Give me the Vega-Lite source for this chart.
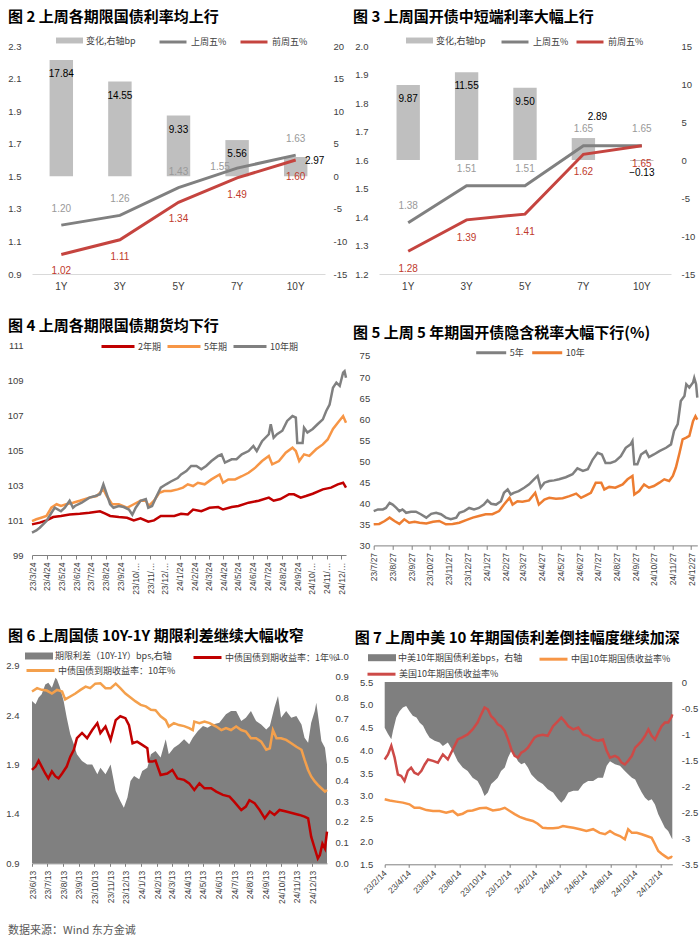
{
"$schema":"https://vega.github.io/schema/vega-lite/v6.json",
"background":"white",
"padding":{"left":5,"top":10,"right":0,"bottom":5},
"config":{"view":{"stroke":null},"font":"Noto Sans CJK SC",
"axis":{"labelFont":"Liberation Sans","labelFontSize":9.5,"labelColor":"#404040","grid":false,"ticks":false,"domain":false,"labelOverlap":false,"labelFlush":false},
"legend":{"labelFont":"Noto Sans CJK SC","labelFontSize":9,"labelColor":"#404040","padding":0},
"title":{"font":"Noto Sans CJK SC","fontSize":15,"fontWeight":"bold","anchor":"start","frame":"group","color":"#000000"}},
"title":{"text":"数据来源：Wind 东方金诚","orient":"bottom","anchor":"start","frame":"group","dx":-24,"fontSize":11,"fontWeight":"normal","color":"#595959","offset":22},
"datasets":{
"p2":[{"c":"1Y","chg":17.84,"last":1.20,"prev":1.02},{"c":"3Y","chg":14.55,"last":1.26,"prev":1.11},{"c":"5Y","chg":9.33,"last":1.43,"prev":1.34},{"c":"7Y","chg":5.56,"last":1.55,"prev":1.49},{"c":"10Y","chg":2.97,"last":1.63,"prev":1.60}],
"p3":[{"c":"1Y","chg":9.87,"last":1.38,"prev":1.28},{"c":"3Y","chg":11.55,"last":1.51,"prev":1.39},{"c":"5Y","chg":9.50,"last":1.51,"prev":1.41},{"c":"7Y","chg":2.89,"last":1.65,"prev":1.62},{"c":"10Y","chg":-0.13,"last":1.65,"prev":1.65}],
"p4a":[{"d":"2023-03-24","v":100.75},{"d":"2023-04-09","v":100.85},{"d":"2023-04-23","v":100.98},{"d":"2023-05-07","v":101.17},{"d":"2023-05-23","v":101.23},{"d":"2023-06-10","v":101.32},{"d":"2023-07-01","v":101.36},{"d":"2023-07-21","v":101.42},{"d":"2023-08-12","v":101.5},{"d":"2023-08-23","v":101.36},{"d":"2023-09-02","v":101.23},{"d":"2023-09-20","v":101.17},{"d":"2023-10-07","v":101.13},{"d":"2023-10-21","v":100.98},{"d":"2023-11-04","v":101.1},{"d":"2023-11-20","v":100.9},{"d":"2023-12-02","v":100.98},{"d":"2023-12-16","v":101.23},{"d":"2023-12-30","v":101.23},{"d":"2024-01-13","v":101.23},{"d":"2024-01-27","v":101.36},{"d":"2024-02-10","v":101.32},{"d":"2024-02-21","v":101.6},{"d":"2024-03-09","v":101.5},{"d":"2024-03-26","v":101.7},{"d":"2024-04-13","v":101.74},{"d":"2024-04-23","v":101.6},{"d":"2024-05-11","v":101.74},{"d":"2024-05-25","v":101.8},{"d":"2024-06-15","v":101.99},{"d":"2024-07-06","v":102.1},{"d":"2024-07-27","v":102.28},{"d":"2024-08-06","v":102.1},{"d":"2024-08-20","v":102.2},{"d":"2024-09-07","v":102.47},{"d":"2024-09-17","v":102.47},{"d":"2024-10-01","v":102.28},{"d":"2024-10-12","v":102.37},{"d":"2024-10-26","v":102.5},{"d":"2024-11-16","v":102.75},{"d":"2024-12-03","v":102.85},{"d":"2024-12-17","v":103.04},{"d":"2024-12-28","v":103.13},{"d":"2025-01-03","v":102.85}],
"p4b":[{"d":"2023-03-24","v":100.94},{"d":"2023-04-02","v":101.04},{"d":"2023-04-12","v":101.13},{"d":"2023-04-23","v":101.23},{"d":"2023-05-03","v":101.7},{"d":"2023-05-14","v":101.9},{"d":"2023-05-23","v":101.8},{"d":"2023-06-03","v":101.9},{"d":"2023-06-17","v":101.99},{"d":"2023-07-01","v":102.1},{"d":"2023-07-21","v":102.28},{"d":"2023-08-05","v":102.37},{"d":"2023-08-19","v":102.75},{"d":"2023-08-26","v":102.37},{"d":"2023-09-06","v":101.9},{"d":"2023-09-20","v":101.9},{"d":"2023-10-07","v":101.7},{"d":"2023-10-21","v":101.9},{"d":"2023-11-04","v":102.1},{"d":"2023-11-15","v":102.1},{"d":"2023-11-21","v":101.8},{"d":"2023-12-02","v":102.1},{"d":"2023-12-13","v":102.56},{"d":"2023-12-23","v":102.66},{"d":"2024-01-06","v":102.66},{"d":"2024-01-20","v":102.75},{"d":"2024-01-31","v":102.85},{"d":"2024-02-10","v":103.04},{"d":"2024-02-21","v":102.94},{"d":"2024-03-02","v":103.13},{"d":"2024-03-16","v":103.04},{"d":"2024-03-30","v":103.32},{"d":"2024-04-16","v":103.6},{"d":"2024-04-23","v":103.13},{"d":"2024-05-04","v":103.32},{"d":"2024-05-18","v":103.32},{"d":"2024-06-01","v":103.5},{"d":"2024-06-15","v":103.7},{"d":"2024-06-29","v":103.99},{"d":"2024-07-13","v":104.37},{"d":"2024-07-27","v":104.66},{"d":"2024-08-03","v":104.18},{"d":"2024-08-17","v":104.37},{"d":"2024-08-31","v":104.85},{"d":"2024-09-14","v":105.13},{"d":"2024-09-21","v":104.94},{"d":"2024-09-28","v":104.37},{"d":"2024-10-08","v":104.75},{"d":"2024-10-19","v":104.66},{"d":"2024-11-02","v":105.04},{"d":"2024-11-16","v":105.32},{"d":"2024-11-26","v":105.6},{"d":"2024-12-07","v":106.2},{"d":"2024-12-17","v":106.56},{"d":"2024-12-28","v":106.94},{"d":"2025-01-03","v":106.56}],
"p4c":[{"d":"2023-03-24","v":100.28},{"d":"2023-04-02","v":100.4},{"d":"2023-04-09","v":100.56},{"d":"2023-04-23","v":100.94},{"d":"2023-05-03","v":101.4},{"d":"2023-05-10","v":101.7},{"d":"2023-05-23","v":101.5},{"d":"2023-05-31","v":101.7},{"d":"2023-06-10","v":102.1},{"d":"2023-06-17","v":101.7},{"d":"2023-06-21","v":101.8},{"d":"2023-07-05","v":101.99},{"d":"2023-07-21","v":102.28},{"d":"2023-08-02","v":102.37},{"d":"2023-08-12","v":102.47},{"d":"2023-08-19","v":103.04},{"d":"2023-08-26","v":102.47},{"d":"2023-09-02","v":101.9},{"d":"2023-09-09","v":101.7},{"d":"2023-09-20","v":101.8},{"d":"2023-09-30","v":101.74},{"d":"2023-10-11","v":101.6},{"d":"2023-10-18","v":101.3},{"d":"2023-10-25","v":101.7},{"d":"2023-11-04","v":102.1},{"d":"2023-11-15","v":102.2},{"d":"2023-11-20","v":101.7},{"d":"2023-11-28","v":101.8},{"d":"2023-12-06","v":102.28},{"d":"2023-12-16","v":102.85},{"d":"2023-12-27","v":103.04},{"d":"2024-01-06","v":103.2},{"d":"2024-01-20","v":103.4},{"d":"2024-01-27","v":103.6},{"d":"2024-02-07","v":103.8},{"d":"2024-02-17","v":104.09},{"d":"2024-02-28","v":104.09},{"d":"2024-03-09","v":103.9},{"d":"2024-03-19","v":104.09},{"d":"2024-03-30","v":104.37},{"d":"2024-04-13","v":104.66},{"d":"2024-04-20","v":104.75},{"d":"2024-04-27","v":104.28},{"d":"2024-05-11","v":104.47},{"d":"2024-05-21","v":104.47},{"d":"2024-06-01","v":104.75},{"d":"2024-06-15","v":104.94},{"d":"2024-06-25","v":105.23},{"d":"2024-07-02","v":104.94},{"d":"2024-07-13","v":105.5},{"d":"2024-07-27","v":105.9},{"d":"2024-07-31","v":106.47},{"d":"2024-08-06","v":105.7},{"d":"2024-08-13","v":105.9},{"d":"2024-08-24","v":106.1},{"d":"2024-09-03","v":106.66},{"d":"2024-09-14","v":106.94},{"d":"2024-09-21","v":106.85},{"d":"2024-09-24","v":105.4},{"d":"2024-10-05","v":105.4},{"d":"2024-10-08","v":106.27},{"d":"2024-10-15","v":106.0},{"d":"2024-10-26","v":106.2},{"d":"2024-11-05","v":106.47},{"d":"2024-11-16","v":106.75},{"d":"2024-11-23","v":107.23},{"d":"2024-11-30","v":107.6},{"d":"2024-12-07","v":108.56},{"d":"2024-12-14","v":108.85},{"d":"2024-12-21","v":108.66},{"d":"2024-12-28","v":109.42},{"d":"2024-12-31","v":109.5},{"d":"2025-01-03","v":109.13}],
"p5a":[{"d":"2023-07-27","v":38.15},{"d":"2023-08-03","v":38.55},{"d":"2023-08-11","v":38.55},{"d":"2023-08-16","v":38.9},{"d":"2023-08-22","v":40.1},{"d":"2023-08-27","v":39.7},{"d":"2023-09-02","v":38.9},{"d":"2023-09-07","v":38.15},{"d":"2023-09-12","v":38.55},{"d":"2023-09-18","v":37.75},{"d":"2023-09-26","v":38.0},{"d":"2023-10-04","v":38.0},{"d":"2023-10-12","v":37.4},{"d":"2023-10-21","v":36.6},{"d":"2023-10-29","v":37.5},{"d":"2023-11-06","v":37.75},{"d":"2023-11-14","v":37.4},{"d":"2023-11-22","v":36.6},{"d":"2023-11-30","v":36.2},{"d":"2023-12-09","v":36.6},{"d":"2023-12-14","v":37.75},{"d":"2023-12-22","v":38.15},{"d":"2023-12-30","v":38.9},{"d":"2024-01-07","v":38.55},{"d":"2024-01-15","v":38.9},{"d":"2024-01-23","v":39.7},{"d":"2024-01-29","v":40.7},{"d":"2024-02-04","v":39.9},{"d":"2024-02-12","v":39.7},{"d":"2024-02-20","v":40.5},{"d":"2024-02-25","v":42.5},{"d":"2024-03-02","v":43.3},{"d":"2024-03-07","v":42.1},{"d":"2024-03-12","v":42.5},{"d":"2024-03-20","v":42.9},{"d":"2024-03-29","v":43.7},{"d":"2024-04-06","v":44.5},{"d":"2024-04-14","v":45.7},{"d":"2024-04-20","v":46.5},{"d":"2024-04-25","v":43.7},{"d":"2024-05-01","v":44.9},{"d":"2024-05-09","v":45.3},{"d":"2024-05-17","v":45.45},{"d":"2024-05-25","v":45.7},{"d":"2024-06-05","v":46.2},{"d":"2024-06-16","v":46.9},{"d":"2024-06-24","v":48.3},{"d":"2024-07-03","v":47.7},{"d":"2024-07-11","v":48.1},{"d":"2024-07-19","v":50.4},{"d":"2024-07-27","v":52.0},{"d":"2024-08-03","v":51.6},{"d":"2024-08-09","v":49.6},{"d":"2024-08-17","v":49.6},{"d":"2024-08-25","v":50.0},{"d":"2024-09-03","v":51.2},{"d":"2024-09-11","v":53.2},{"d":"2024-09-19","v":54.0},{"d":"2024-09-22","v":54.8},{"d":"2024-09-25","v":49.25},{"d":"2024-09-30","v":49.25},{"d":"2024-10-06","v":51.6},{"d":"2024-10-14","v":52.4},{"d":"2024-10-19","v":51.0},{"d":"2024-10-27","v":51.6},{"d":"2024-11-05","v":52.4},{"d":"2024-11-16","v":53.2},{"d":"2024-11-24","v":54.0},{"d":"2024-11-29","v":57.2},{"d":"2024-12-05","v":58.8},{"d":"2024-12-10","v":64.3},{"d":"2024-12-16","v":65.5},{"d":"2024-12-19","v":68.3},{"d":"2024-12-24","v":67.5},{"d":"2024-12-30","v":68.7},{"d":"2025-01-01","v":69.8},{"d":"2025-01-04","v":68.3},{"d":"2025-01-06","v":65.1}],
"p5b":[{"d":"2023-07-27","v":35.0},{"d":"2023-08-05","v":35.1},{"d":"2023-08-14","v":35.8},{"d":"2023-08-22","v":36.6},{"d":"2023-08-30","v":35.8},{"d":"2023-09-07","v":35.1},{"d":"2023-09-15","v":36.2},{"d":"2023-09-23","v":35.4},{"d":"2023-10-02","v":35.6},{"d":"2023-10-10","v":35.4},{"d":"2023-10-21","v":35.2},{"d":"2023-11-01","v":35.6},{"d":"2023-11-11","v":35.8},{"d":"2023-11-22","v":35.0},{"d":"2023-12-03","v":35.1},{"d":"2023-12-14","v":35.4},{"d":"2023-12-25","v":36.0},{"d":"2024-01-05","v":36.6},{"d":"2024-01-15","v":37.0},{"d":"2024-01-26","v":37.4},{"d":"2024-02-06","v":37.4},{"d":"2024-02-17","v":38.15},{"d":"2024-02-25","v":39.7},{"d":"2024-03-05","v":41.3},{"d":"2024-03-10","v":39.7},{"d":"2024-03-18","v":40.5},{"d":"2024-03-26","v":40.4},{"d":"2024-04-06","v":40.7},{"d":"2024-04-16","v":42.5},{"d":"2024-04-22","v":39.7},{"d":"2024-05-01","v":40.9},{"d":"2024-05-09","v":41.3},{"d":"2024-05-20","v":41.1},{"d":"2024-05-31","v":41.2},{"d":"2024-06-11","v":41.7},{"d":"2024-06-22","v":42.3},{"d":"2024-06-30","v":41.3},{"d":"2024-07-08","v":41.9},{"d":"2024-07-16","v":42.5},{"d":"2024-07-24","v":44.9},{"d":"2024-08-02","v":44.9},{"d":"2024-08-07","v":43.3},{"d":"2024-08-15","v":43.9},{"d":"2024-08-25","v":43.7},{"d":"2024-09-06","v":44.5},{"d":"2024-09-14","v":45.7},{"d":"2024-09-22","v":46.5},{"d":"2024-09-25","v":42.1},{"d":"2024-10-03","v":42.9},{"d":"2024-10-11","v":44.5},{"d":"2024-10-19","v":43.7},{"d":"2024-10-27","v":44.1},{"d":"2024-11-05","v":44.9},{"d":"2024-11-13","v":45.7},{"d":"2024-11-21","v":45.3},{"d":"2024-11-27","v":46.5},{"d":"2024-12-02","v":48.5},{"d":"2024-12-08","v":52.0},{"d":"2024-12-13","v":55.2},{"d":"2024-12-19","v":55.6},{"d":"2024-12-24","v":56.0},{"d":"2024-12-30","v":59.5},{"d":"2025-01-03","v":60.7},{"d":"2025-01-06","v":59.9}],
"p6s":[{"d":"2023-06-13","v":0.783},{"d":"2023-06-20","v":0.767},{"d":"2023-06-26","v":0.8},{"d":"2023-07-02","v":0.815},{"d":"2023-07-09","v":0.863},{"d":"2023-07-15","v":0.871},{"d":"2023-07-22","v":0.847},{"d":"2023-07-29","v":0.895},{"d":"2023-08-01","v":0.887},{"d":"2023-08-07","v":0.847},{"d":"2023-08-14","v":0.783},{"d":"2023-08-20","v":0.703},{"d":"2023-08-27","v":0.622},{"d":"2023-09-03","v":0.574},{"d":"2023-09-09","v":0.526},{"d":"2023-09-19","v":0.494},{"d":"2023-09-29","v":0.477},{"d":"2023-10-09","v":0.477},{"d":"2023-10-19","v":0.429},{"d":"2023-10-25","v":0.461},{"d":"2023-11-04","v":0.429},{"d":"2023-11-14","v":0.477},{"d":"2023-11-24","v":0.349},{"d":"2023-12-03","v":0.3},{"d":"2023-12-10","v":0.268},{"d":"2023-12-17","v":0.317},{"d":"2023-12-23","v":0.397},{"d":"2023-12-30","v":0.421},{"d":"2024-01-09","v":0.405},{"d":"2024-01-15","v":0.445},{"d":"2024-01-25","v":0.461},{"d":"2024-02-01","v":0.526},{"d":"2024-02-10","v":0.542},{"d":"2024-02-20","v":0.51},{"d":"2024-03-01","v":0.598},{"d":"2024-03-07","v":0.526},{"d":"2024-03-17","v":0.558},{"d":"2024-03-27","v":0.574},{"d":"2024-04-06","v":0.598},{"d":"2024-04-16","v":0.574},{"d":"2024-04-23","v":0.606},{"d":"2024-05-03","v":0.638},{"d":"2024-05-13","v":0.662},{"d":"2024-05-22","v":0.654},{"d":"2024-06-01","v":0.67},{"d":"2024-06-14","v":0.678},{"d":"2024-06-27","v":0.719},{"d":"2024-07-07","v":0.735},{"d":"2024-07-17","v":0.735},{"d":"2024-07-27","v":0.686},{"d":"2024-08-05","v":0.702},{"d":"2024-08-15","v":0.735},{"d":"2024-08-25","v":0.686},{"d":"2024-09-04","v":0.67},{"d":"2024-09-14","v":0.646},{"d":"2024-09-21","v":0.662},{"d":"2024-09-30","v":0.751},{"d":"2024-10-07","v":0.807},{"d":"2024-10-13","v":0.702},{"d":"2024-10-23","v":0.735},{"d":"2024-11-02","v":0.702},{"d":"2024-11-12","v":0.711},{"d":"2024-11-22","v":0.67},{"d":"2024-11-28","v":0.606},{"d":"2024-12-05","v":0.582},{"d":"2024-12-11","v":0.678},{"d":"2024-12-18","v":0.735},{"d":"2024-12-21","v":0.775},{"d":"2024-12-26","v":0.686},{"d":"2024-12-31","v":0.59},{"d":"2025-01-07","v":0.558},{"d":"2025-01-11","v":0.477}],
"p6a":[{"d":"2023-06-13","v":1.846},{"d":"2023-06-20","v":1.88},{"d":"2023-06-26","v":1.94},{"d":"2023-07-02","v":1.88},{"d":"2023-07-09","v":1.81},{"d":"2023-07-15","v":1.76},{"d":"2023-07-22","v":1.83},{"d":"2023-07-29","v":1.78},{"d":"2023-08-04","v":1.76},{"d":"2023-08-11","v":1.81},{"d":"2023-08-20","v":1.88},{"d":"2023-08-27","v":1.98},{"d":"2023-09-03","v":2.05},{"d":"2023-09-09","v":2.167},{"d":"2023-09-19","v":2.22},{"d":"2023-09-29","v":2.167},{"d":"2023-10-09","v":2.25},{"d":"2023-10-19","v":2.32},{"d":"2023-10-25","v":2.22},{"d":"2023-11-04","v":2.285},{"d":"2023-11-14","v":2.15},{"d":"2023-11-24","v":2.35},{"d":"2023-12-03","v":2.39},{"d":"2023-12-13","v":2.37},{"d":"2023-12-20","v":2.3},{"d":"2023-12-27","v":2.116},{"d":"2024-01-05","v":2.133},{"d":"2024-01-15","v":2.1},{"d":"2024-01-25","v":2.065},{"d":"2024-01-28","v":1.93},{"d":"2024-02-04","v":1.93},{"d":"2024-02-10","v":1.94},{"d":"2024-02-20","v":1.795},{"d":"2024-03-04","v":1.81},{"d":"2024-03-14","v":1.846},{"d":"2024-03-24","v":1.76},{"d":"2024-04-06","v":1.745},{"d":"2024-04-16","v":1.71},{"d":"2024-04-26","v":1.643},{"d":"2024-05-06","v":1.71},{"d":"2024-05-16","v":1.66},{"d":"2024-05-29","v":1.66},{"d":"2024-06-08","v":1.626},{"d":"2024-06-21","v":1.593},{"d":"2024-07-04","v":1.576},{"d":"2024-07-13","v":1.525},{"d":"2024-07-27","v":1.44},{"d":"2024-08-05","v":1.475},{"d":"2024-08-12","v":1.54},{"d":"2024-08-22","v":1.51},{"d":"2024-09-01","v":1.44},{"d":"2024-09-11","v":1.356},{"d":"2024-09-21","v":1.424},{"d":"2024-09-30","v":1.39},{"d":"2024-10-10","v":1.44},{"d":"2024-10-23","v":1.424},{"d":"2024-11-05","v":1.407},{"d":"2024-11-18","v":1.39},{"d":"2024-11-28","v":1.373},{"d":"2024-12-05","v":1.356},{"d":"2024-12-11","v":1.17},{"d":"2024-12-18","v":1.05},{"d":"2024-12-24","v":0.95},{"d":"2024-12-28","v":0.985},{"d":"2025-01-02","v":1.1},{"d":"2025-01-07","v":1.05},{"d":"2025-01-11","v":1.22}],
"p6b":[{"d":"2023-06-13","v":2.64},{"d":"2023-06-23","v":2.674},{"d":"2023-07-02","v":2.657},{"d":"2023-07-12","v":2.65},{"d":"2023-07-22","v":2.62},{"d":"2023-08-01","v":2.657},{"d":"2023-08-11","v":2.64},{"d":"2023-08-17","v":2.56},{"d":"2023-08-27","v":2.59},{"d":"2023-09-06","v":2.62},{"d":"2023-09-16","v":2.657},{"d":"2023-09-26","v":2.69},{"d":"2023-10-05","v":2.674},{"d":"2023-10-15","v":2.72},{"d":"2023-10-25","v":2.724},{"d":"2023-11-04","v":2.674},{"d":"2023-11-14","v":2.674},{"d":"2023-11-24","v":2.72},{"d":"2023-12-03","v":2.674},{"d":"2023-12-13","v":2.62},{"d":"2023-12-23","v":2.58},{"d":"2024-01-02","v":2.54},{"d":"2024-01-12","v":2.505},{"d":"2024-01-22","v":2.49},{"d":"2024-02-01","v":2.455},{"d":"2024-02-10","v":2.45},{"d":"2024-02-20","v":2.39},{"d":"2024-03-01","v":2.35},{"d":"2024-03-07","v":2.285},{"d":"2024-03-17","v":2.32},{"d":"2024-03-27","v":2.3},{"d":"2024-04-06","v":2.29},{"d":"2024-04-16","v":2.27},{"d":"2024-04-23","v":2.25},{"d":"2024-04-26","v":2.336},{"d":"2024-05-06","v":2.32},{"d":"2024-05-16","v":2.336},{"d":"2024-05-26","v":2.32},{"d":"2024-06-08","v":2.285},{"d":"2024-06-18","v":2.25},{"d":"2024-06-27","v":2.27},{"d":"2024-07-07","v":2.25},{"d":"2024-07-17","v":2.285},{"d":"2024-07-27","v":2.25},{"d":"2024-08-05","v":2.235},{"d":"2024-08-15","v":2.167},{"d":"2024-08-25","v":2.167},{"d":"2024-09-04","v":2.133},{"d":"2024-09-14","v":2.05},{"d":"2024-09-21","v":2.065},{"d":"2024-09-27","v":2.25},{"d":"2024-10-04","v":2.167},{"d":"2024-10-13","v":2.167},{"d":"2024-10-23","v":2.15},{"d":"2024-11-02","v":2.116},{"d":"2024-11-12","v":2.08},{"d":"2024-11-22","v":2.05},{"d":"2024-11-28","v":1.95},{"d":"2024-12-05","v":1.846},{"d":"2024-12-11","v":1.78},{"d":"2024-12-18","v":1.73},{"d":"2024-12-24","v":1.694},{"d":"2024-12-31","v":1.66},{"d":"2025-01-07","v":1.626},{"d":"2025-01-11","v":1.643}],
"p7s":[{"d":"2023-02-14","v":-0.88},{"d":"2023-02-22","v":-1.0},{"d":"2023-03-02","v":-1.1},{"d":"2023-03-06","v":-0.94},{"d":"2023-03-14","v":-0.68},{"d":"2023-03-22","v":-0.56},{"d":"2023-03-30","v":-0.49},{"d":"2023-04-07","v":-0.46},{"d":"2023-04-15","v":-0.56},{"d":"2023-04-23","v":-0.65},{"d":"2023-05-02","v":-0.68},{"d":"2023-05-10","v":-0.78},{"d":"2023-05-18","v":-0.84},{"d":"2023-05-26","v":-0.97},{"d":"2023-06-03","v":-1.07},{"d":"2023-06-15","v":-1.13},{"d":"2023-06-27","v":-1.16},{"d":"2023-07-05","v":-1.23},{"d":"2023-07-17","v":-1.16},{"d":"2023-07-29","v":-1.32},{"d":"2023-08-10","v":-1.52},{"d":"2023-08-22","v":-1.64},{"d":"2023-09-03","v":-1.71},{"d":"2023-09-15","v":-1.84},{"d":"2023-09-27","v":-1.9},{"d":"2023-10-06","v":-2.03},{"d":"2023-10-14","v":-2.19},{"d":"2023-10-22","v":-2.12},{"d":"2023-10-30","v":-1.96},{"d":"2023-11-07","v":-1.9},{"d":"2023-11-15","v":-1.84},{"d":"2023-11-23","v":-1.71},{"d":"2023-12-02","v":-1.64},{"d":"2023-12-10","v":-1.45},{"d":"2023-12-18","v":-1.32},{"d":"2023-12-26","v":-1.39},{"d":"2024-01-03","v":-1.52},{"d":"2024-01-11","v":-1.58},{"d":"2024-01-19","v":-1.55},{"d":"2024-01-27","v":-1.64},{"d":"2024-02-04","v":-1.77},{"d":"2024-02-12","v":-1.84},{"d":"2024-02-20","v":-1.9},{"d":"2024-03-03","v":-1.96},{"d":"2024-03-15","v":-2.06},{"d":"2024-03-28","v":-2.12},{"d":"2024-04-09","v":-2.25},{"d":"2024-04-17","v":-2.32},{"d":"2024-04-25","v":-2.25},{"d":"2024-05-04","v":-2.12},{"d":"2024-05-16","v":-2.09},{"d":"2024-05-28","v":-2.09},{"d":"2024-06-09","v":-1.96},{"d":"2024-06-21","v":-1.9},{"d":"2024-07-03","v":-1.9},{"d":"2024-07-15","v":-1.84},{"d":"2024-07-27","v":-1.84},{"d":"2024-08-05","v":-1.61},{"d":"2024-08-13","v":-1.52},{"d":"2024-08-25","v":-1.58},{"d":"2024-09-06","v":-1.61},{"d":"2024-09-18","v":-1.71},{"d":"2024-09-26","v":-1.77},{"d":"2024-10-05","v":-1.84},{"d":"2024-10-13","v":-1.87},{"d":"2024-10-21","v":-2.0},{"d":"2024-10-29","v":-2.12},{"d":"2024-11-06","v":-2.22},{"d":"2024-11-14","v":-2.28},{"d":"2024-11-22","v":-2.25},{"d":"2024-11-30","v":-2.35},{"d":"2024-12-08","v":-2.54},{"d":"2024-12-16","v":-2.67},{"d":"2024-12-24","v":-2.8},{"d":"2025-01-01","v":-2.86},{"d":"2025-01-09","v":-2.99},{"d":"2025-01-11","v":-3.02}],
"p7us":[{"d":"2023-02-14","v":3.8},{"d":"2023-02-22","v":3.91},{"d":"2023-03-02","v":4.1},{"d":"2023-03-10","v":3.84},{"d":"2023-03-18","v":3.47},{"d":"2023-03-26","v":3.44},{"d":"2023-04-03","v":3.33},{"d":"2023-04-11","v":3.55},{"d":"2023-04-19","v":3.62},{"d":"2023-04-27","v":3.51},{"d":"2023-05-06","v":3.47},{"d":"2023-05-14","v":3.55},{"d":"2023-05-22","v":3.69},{"d":"2023-05-30","v":3.8},{"d":"2023-06-11","v":3.77},{"d":"2023-06-23","v":3.73},{"d":"2023-07-05","v":3.91},{"d":"2023-07-17","v":3.8},{"d":"2023-07-29","v":4.02},{"d":"2023-08-10","v":4.24},{"d":"2023-08-22","v":4.29},{"d":"2023-09-03","v":4.35},{"d":"2023-09-15","v":4.46},{"d":"2023-09-27","v":4.61},{"d":"2023-10-06","v":4.79},{"d":"2023-10-14","v":4.94},{"d":"2023-10-22","v":4.9},{"d":"2023-10-30","v":4.75},{"d":"2023-11-07","v":4.68},{"d":"2023-11-15","v":4.57},{"d":"2023-11-23","v":4.53},{"d":"2023-12-02","v":4.43},{"d":"2023-12-10","v":4.24},{"d":"2023-12-18","v":4.02},{"d":"2023-12-26","v":3.88},{"d":"2024-01-03","v":3.84},{"d":"2024-01-11","v":3.95},{"d":"2024-01-19","v":3.99},{"d":"2024-01-27","v":4.06},{"d":"2024-02-04","v":4.17},{"d":"2024-02-12","v":4.28},{"d":"2024-02-20","v":4.32},{"d":"2024-03-03","v":4.34},{"d":"2024-03-15","v":4.32},{"d":"2024-03-28","v":4.53},{"d":"2024-04-09","v":4.64},{"d":"2024-04-17","v":4.72},{"d":"2024-04-25","v":4.64},{"d":"2024-05-04","v":4.53},{"d":"2024-05-16","v":4.46},{"d":"2024-05-28","v":4.5},{"d":"2024-06-09","v":4.35},{"d":"2024-06-21","v":4.32},{"d":"2024-07-03","v":4.24},{"d":"2024-07-15","v":4.21},{"d":"2024-07-27","v":4.24},{"d":"2024-08-05","v":3.99},{"d":"2024-08-13","v":3.84},{"d":"2024-08-25","v":3.88},{"d":"2024-09-02","v":3.84},{"d":"2024-09-10","v":3.73},{"d":"2024-09-18","v":3.69},{"d":"2024-09-26","v":3.77},{"d":"2024-10-05","v":3.88},{"d":"2024-10-13","v":4.06},{"d":"2024-10-21","v":4.13},{"d":"2024-10-29","v":4.21},{"d":"2024-11-06","v":4.32},{"d":"2024-11-14","v":4.46},{"d":"2024-11-22","v":4.32},{"d":"2024-11-30","v":4.24},{"d":"2024-12-08","v":4.39},{"d":"2024-12-16","v":4.53},{"d":"2024-12-24","v":4.61},{"d":"2025-01-01","v":4.61},{"d":"2025-01-09","v":4.73},{"d":"2025-01-11","v":4.79}],
"p7cn":[{"d":"2023-02-14","v":2.926},{"d":"2023-02-26","v":2.9},{"d":"2023-03-14","v":2.875},{"d":"2023-03-30","v":2.853},{"d":"2023-04-15","v":2.816},{"d":"2023-04-27","v":2.74},{"d":"2023-05-10","v":2.74},{"d":"2023-05-26","v":2.69},{"d":"2023-06-11","v":2.67},{"d":"2023-06-27","v":2.67},{"d":"2023-07-13","v":2.63},{"d":"2023-07-29","v":2.67},{"d":"2023-08-10","v":2.58},{"d":"2023-08-22","v":2.61},{"d":"2023-09-03","v":2.67},{"d":"2023-09-15","v":2.68},{"d":"2023-10-02","v":2.73},{"d":"2023-10-18","v":2.74},{"d":"2023-11-03","v":2.68},{"d":"2023-11-19","v":2.7},{"d":"2023-12-02","v":2.74},{"d":"2023-12-14","v":2.67},{"d":"2023-12-26","v":2.6},{"d":"2024-01-07","v":2.54},{"d":"2024-01-23","v":2.49},{"d":"2024-02-08","v":2.45},{"d":"2024-02-20","v":2.39},{"d":"2024-03-03","v":2.3},{"d":"2024-03-15","v":2.29},{"d":"2024-03-28","v":2.29},{"d":"2024-04-09","v":2.3},{"d":"2024-04-21","v":2.34},{"d":"2024-05-04","v":2.32},{"d":"2024-05-16","v":2.3},{"d":"2024-06-01","v":2.27},{"d":"2024-06-17","v":2.23},{"d":"2024-07-03","v":2.27},{"d":"2024-07-19","v":2.19},{"d":"2024-08-01","v":2.16},{"d":"2024-08-13","v":2.23},{"d":"2024-08-25","v":2.16},{"d":"2024-09-06","v":2.12},{"d":"2024-09-18","v":2.05},{"d":"2024-09-26","v":2.27},{"d":"2024-10-05","v":2.19},{"d":"2024-10-17","v":2.19},{"d":"2024-10-29","v":2.16},{"d":"2024-11-10","v":2.12},{"d":"2024-11-22","v":2.08},{"d":"2024-11-30","v":1.94},{"d":"2024-12-08","v":1.79},{"d":"2024-12-16","v":1.73},{"d":"2024-12-24","v":1.68},{"d":"2025-01-01","v":1.63},{"d":"2025-01-09","v":1.66},{"d":"2025-01-11","v":1.65}]
},
"spacing":27,
"resolve":{"scale":{"fill":"independent","stroke":"independent","color":"independent"},"legend":{"fill":"independent","stroke":"independent","color":"independent"}},
"vconcat":[
{"hconcat":[
 {"title":{"text":"图 2  上周各期限国债利率均上行","dx":-24,"offset":2},
  "width":293,"height":228,"data":{"name":"p2"},
  "encoding":{"x":{"field":"c","type":"nominal","sort":["1Y","3Y","5Y","7Y","10Y"],"title":null,"scale":{"paddingInner":0.6,"paddingOuter":0.3},"axis":{"labelAngle":0,"domain":true,"domainColor":"#d9d9d9","labelPadding":7,"labelFontSize":10}}},
  "layer":[
   {"encoding":{"y":{"field":"chg","type":"quantitative","title":null,"scale":{"domain":[-15,20],"nice":false},"axis":{"orient":"right","values":[-15,-10,-5,0,5,10,15,20],"labelExpr":"''+datum.value","labelPadding":8,"labelOverlap":false}}},
    "layer":[
     {"mark":{"type":"bar"},"encoding":{"y2":{"datum":0},
       "fill":{"datum":"变化,右轴bp","scale":{"range":["#bfbfbf"]},"legend":{"title":null,"orient":"none","legendX":24,"legendY":-19,"direction":"horizontal","symbolType":"M-1,-0.22H1V0.22H-1Z","symbolSize":729,"symbolStrokeWidth":0,"labelOffset":3}}}},
     {"transform":[{"filter":"datum.chg > 4"}],"mark":{"type":"text","dy":14,"font":"Liberation Sans","fontSize":10,"color":"#000000"},"encoding":{"text":{"field":"chg","type":"quantitative","format":".2f"}}},
     {"transform":[{"filter":"datum.chg <= 4"}],"mark":{"type":"text","dy":4,"dx":19,"font":"Liberation Sans","fontSize":10,"color":"#000000"},"encoding":{"text":{"field":"chg","type":"quantitative","format":".2f"}}}
   ]},
   {"layer":[
     {"mark":{"type":"line","strokeWidth":3},"encoding":{"y":{"field":"last","type":"quantitative","title":null,"scale":{"domain":[0.9,2.3],"nice":false},"axis":{"orient":"left","values":[0.9,1.1,1.3,1.5,1.7,1.9,2.1,2.3],"format":".1f","labelPadding":11,"labelOverlap":false}},
       "stroke":{"datum":"上周五%","scale":{"domain":["上周五%","前周五%"],"range":["#808080","#c5443f"]},"legend":{"title":null,"orient":"none","legendX":126,"legendY":-19,"direction":"horizontal","symbolType":"stroke","symbolSize":729,"symbolStrokeWidth":3,"labelOffset":3,"columnPadding":7}}}},
     {"mark":{"type":"line","strokeWidth":3},"encoding":{"y":{"field":"prev","type":"quantitative","title":null,"axis":{"orient":"left","values":[0.9,1.1,1.3,1.5,1.7,1.9,2.1,2.3],"format":".1f","labelPadding":11,"labelOverlap":false}},"stroke":{"datum":"前周五%"}}},
     {"transform":[{"filter":"datum.c != '7Y'"}],"mark":{"type":"text","dy":-16,"font":"Liberation Sans","fontSize":10,"color":"#999999"},"encoding":{"y":{"field":"last","type":"quantitative","title":null,"axis":{"orient":"left","values":[0.9,1.1,1.3,1.5,1.7,1.9,2.1,2.3],"format":".1f","labelPadding":11,"labelOverlap":false}},"text":{"field":"last","type":"quantitative","format":".2f"}}},
     {"transform":[{"filter":"datum.c == '7Y'"}],"mark":{"type":"text","dy":-1,"dx":-17,"font":"Liberation Sans","fontSize":10,"color":"#999999"},"encoding":{"y":{"field":"last","type":"quantitative","title":null,"axis":{"orient":"left","values":[0.9,1.1,1.3,1.5,1.7,1.9,2.1,2.3],"format":".1f","labelPadding":11,"labelOverlap":false}},"text":{"field":"last","type":"quantitative","format":".2f"}}},
     {"mark":{"type":"text","dy":17,"font":"Liberation Sans","fontSize":10,"color":"#c0392b"},"encoding":{"y":{"field":"prev","type":"quantitative","title":null,"axis":{"orient":"left","values":[0.9,1.1,1.3,1.5,1.7,1.9,2.1,2.3],"format":".1f","labelPadding":11,"labelOverlap":false}},"text":{"field":"prev","type":"quantitative","format":".2f"}}}
   ]}
  ],
  "resolve":{"scale":{"y":"independent"}}},
 {"title":{"text":"图 3  上周国开债中短端利率大幅上行","dx":-26,"offset":2},
  "width":292,"height":228,"data":{"name":"p3"},
  "encoding":{"x":{"field":"c","type":"nominal","sort":["1Y","3Y","5Y","7Y","10Y"],"title":null,"scale":{"paddingInner":0.6,"paddingOuter":0.3},"axis":{"labelAngle":0,"domain":true,"domainColor":"#d9d9d9","labelPadding":7,"labelFontSize":10}}},
  "layer":[
   {"encoding":{"y":{"field":"chg","type":"quantitative","title":null,"scale":{"domain":[-15,15],"nice":false},"axis":{"orient":"right","values":[-15,-10,-5,0,5,10,15],"labelExpr":"''+datum.value","labelPadding":10,"labelOverlap":false}}},
    "layer":[
     {"mark":{"type":"bar"},"encoding":{"y2":{"datum":0},
       "fill":{"datum":"变化,右轴bp","scale":{"range":["#bfbfbf"]},"legend":{"title":null,"orient":"none","legendX":27,"legendY":-19,"direction":"horizontal","symbolType":"M-1,-0.22H1V0.22H-1Z","symbolSize":729,"symbolStrokeWidth":0,"labelOffset":3}}}},
     {"transform":[{"filter":"datum.chg > 4"}],"mark":{"type":"text","dy":14,"font":"Liberation Sans","fontSize":10,"color":"#000000"},"encoding":{"text":{"field":"chg","type":"quantitative","format":".2f"}}},
     {"transform":[{"filter":"datum.c == '7Y'"}],"mark":{"type":"text","dy":-21,"dx":14,"font":"Liberation Sans","fontSize":10,"color":"#000000"},"encoding":{"text":{"field":"chg","type":"quantitative","format":".2f"}}},
     {"transform":[{"filter":"datum.c == '10Y'"}],"mark":{"type":"text","dy":12,"font":"Liberation Sans","fontSize":10,"color":"#000000"},"encoding":{"text":{"field":"chg","type":"quantitative","format":".2f"}}}
   ]},
   {"layer":[
     {"mark":{"type":"line","strokeWidth":3},"encoding":{"y":{"field":"last","type":"quantitative","title":null,"scale":{"domain":[1.2,2.0],"nice":false},"axis":{"orient":"left","values":[1.2,1.3,1.4,1.5,1.6,1.7,1.8,1.9,2.0],"format":".1f","labelPadding":11,"labelOverlap":false}},
       "stroke":{"datum":"上周五%","scale":{"domain":["上周五%","前周五%"],"range":["#808080","#c5443f"]},"legend":{"title":null,"orient":"none","legendX":121,"legendY":-19,"direction":"horizontal","symbolType":"stroke","symbolSize":729,"symbolStrokeWidth":3,"labelOffset":3,"columnPadding":1}}}},
     {"mark":{"type":"line","strokeWidth":3},"encoding":{"y":{"field":"prev","type":"quantitative","title":null,"axis":{"orient":"left","values":[1.2,1.3,1.4,1.5,1.6,1.7,1.8,1.9,2.0],"format":".1f","labelPadding":11,"labelOverlap":false}},"stroke":{"datum":"前周五%"}}},
     {"mark":{"type":"text","dy":-17,"font":"Liberation Sans","fontSize":10,"color":"#999999"},"encoding":{"y":{"field":"last","type":"quantitative","title":null,"axis":{"orient":"left","values":[1.2,1.3,1.4,1.5,1.6,1.7,1.8,1.9,2.0],"format":".1f","labelPadding":11,"labelOverlap":false}},"text":{"field":"last","type":"quantitative","format":".2f"}}},
     {"mark":{"type":"text","dy":18,"font":"Liberation Sans","fontSize":10,"color":"#c0392b"},"encoding":{"y":{"field":"prev","type":"quantitative","title":null,"axis":{"orient":"left","values":[1.2,1.3,1.4,1.5,1.6,1.7,1.8,1.9,2.0],"format":".1f","labelPadding":11,"labelOverlap":false}},"text":{"field":"prev","type":"quantitative","format":".2f"}}}
   ]}
  ],
  "resolve":{"scale":{"y":"independent"}}}
 ],"spacing":54,"bounds":"flush",
 "resolve":{"scale":{"fill":"independent","stroke":"independent","color":"independent"},"legend":{"fill":"independent","stroke":"independent","color":"independent"}}},
{"vconcat":[
{"hconcat":[
  {"title":{"text":"图 4  上周各期限国债期货均下行","dx":-24,"offset":-5},
   "width":314,"height":210,
   "encoding":{"x":{"field":"d","type":"temporal","title":null,"scale":{"type":"utc","domain":[{"year":2023,"month":3,"date":24,"utc":true},{"year":2025,"month":1,"date":3,"utc":true}]},
     "axis":{"values":[{"year":2023,"month":3,"date":24,"utc":true},{"year":2023,"month":4,"date":24,"utc":true},{"year":2023,"month":5,"date":24,"utc":true},{"year":2023,"month":6,"date":24,"utc":true},{"year":2023,"month":7,"date":24,"utc":true},{"year":2023,"month":8,"date":24,"utc":true},{"year":2023,"month":9,"date":24,"utc":true},{"year":2023,"month":10,"date":24,"utc":true},{"year":2023,"month":11,"date":24,"utc":true},{"year":2023,"month":12,"date":24,"utc":true},{"year":2024,"month":1,"date":24,"utc":true},{"year":2024,"month":2,"date":24,"utc":true},{"year":2024,"month":3,"date":24,"utc":true},{"year":2024,"month":4,"date":24,"utc":true},{"year":2024,"month":5,"date":24,"utc":true},{"year":2024,"month":6,"date":24,"utc":true},{"year":2024,"month":7,"date":24,"utc":true},{"year":2024,"month":8,"date":24,"utc":true},{"year":2024,"month":9,"date":24,"utc":true},{"year":2024,"month":10,"date":24,"utc":true},{"year":2024,"month":11,"date":24,"utc":true},{"year":2024,"month":12,"date":24,"utc":true}],
      "labelExpr":"utcmonth(datum.value) >= 9 ? utcFormat(datum.value, '%y/%-m/') + '…' : utcFormat(datum.value, '%y/%-m/%-d')","labelAngle":270,"labelAlign":"right","labelBaseline":"middle","labelFontSize":8.5,"labelPadding":3,"domain":true,"domainColor":"#808080","ticks":true,"tickColor":"#808080","tickSize":4}},
    "y":{"field":"v","type":"quantitative","title":null,"scale":{"domain":[99,111],"nice":false},"axis":{"values":[99,101,103,105,107,109,111],"labelPadding":9,"labelOverlap":false}}},
   "layer":[
    {"data":{"name":"p4a"},"mark":{"type":"line","strokeWidth":2.5},"encoding":{"stroke":{"datum":"2年期","scale":{"domain":["2年期","5年期","10年期"],"range":["#c00000","#f79646","#808080"]},"legend":{"title":null,"orient":"none","legendX":68,"legendY":-16.5,"direction":"horizontal","symbolType":"stroke","symbolSize":1089,"symbolStrokeWidth":3,"labelOffset":2,"columnPadding":0}}}},
    {"data":{"name":"p4b"},"mark":{"type":"line","strokeWidth":2.5},"encoding":{"stroke":{"datum":"5年期"}}},
    {"data":{"name":"p4c"},"mark":{"type":"line","strokeWidth":2.5},"encoding":{"stroke":{"datum":"10年期"}}}
   ]},
  {"title":{"text":"图 5  上周 5 年期国开债隐含税率大幅下行(%)","dx":-20.7,"offset":-5},
   "width":323.6,"height":200.4,
   "encoding":{"x":{"field":"d","type":"temporal","title":null,"scale":{"type":"utc","domain":[{"year":2023,"month":7,"date":27,"utc":true},{"year":2025,"month":1,"date":6,"utc":true}]},
     "axis":{"values":[{"year":2023,"month":7,"date":27,"utc":true},{"year":2023,"month":8,"date":27,"utc":true},{"year":2023,"month":9,"date":27,"utc":true},{"year":2023,"month":10,"date":27,"utc":true},{"year":2023,"month":11,"date":27,"utc":true},{"year":2023,"month":12,"date":27,"utc":true},{"year":2024,"month":1,"date":27,"utc":true},{"year":2024,"month":2,"date":27,"utc":true},{"year":2024,"month":3,"date":27,"utc":true},{"year":2024,"month":4,"date":27,"utc":true},{"year":2024,"month":5,"date":27,"utc":true},{"year":2024,"month":6,"date":27,"utc":true},{"year":2024,"month":7,"date":27,"utc":true},{"year":2024,"month":8,"date":27,"utc":true},{"year":2024,"month":9,"date":27,"utc":true},{"year":2024,"month":10,"date":27,"utc":true},{"year":2024,"month":11,"date":27,"utc":true},{"year":2024,"month":12,"date":27,"utc":true}],
      "labelExpr":"utcFormat(datum.value, '%y/%-m/%-d')","labelAngle":270,"labelAlign":"right","labelBaseline":"middle","labelFontSize":8.5,"labelPadding":3,"domain":true,"domainColor":"#808080","ticks":true,"tickColor":"#808080","tickSize":4}},
    "y":{"field":"v","type":"quantitative","title":null,"scale":{"domain":[30,77.61],"nice":false},"axis":{"values":[30,35,40,45,50,55,60,65,70,75],"labelPadding":4,"labelOverlap":false}}},
   "layer":[
    {"data":{"name":"p5a"},"mark":{"type":"line","strokeWidth":2.5},"encoding":{"stroke":{"datum":"5年","scale":{"domain":["5年","10年"],"range":["#808080","#ed7d31"]},"legend":{"title":null,"orient":"none","legendX":101,"legendY":-9,"direction":"horizontal","symbolType":"stroke","symbolSize":900,"symbolStrokeWidth":3,"labelOffset":2,"columnPadding":2}}}},
    {"data":{"name":"p5b"},"mark":{"type":"line","strokeWidth":2.5},"encoding":{"stroke":{"datum":"10年"}}}
   ]}
 ],"spacing":27.7,"bounds":"flush",
 "resolve":{"scale":{"fill":"independent","stroke":"independent","color":"independent"},"legend":{"fill":"independent","stroke":"independent","color":"independent"}}},
{"hconcat":[
  {"title":{"text":"图 6  上周国债 10Y-1Y 期限利差继续大幅收窄","dx":-24,"offset":-2},
   "width":295,"height":207.3,
   "encoding":{"x":{"field":"d","type":"temporal","title":null,"scale":{"type":"utc","domain":[{"year":2023,"month":6,"date":13,"utc":true},{"year":2025,"month":1,"date":11,"utc":true}]},
     "axis":{"values":[{"year":2023,"month":6,"date":13,"utc":true},{"year":2023,"month":7,"date":13,"utc":true},{"year":2023,"month":8,"date":13,"utc":true},{"year":2023,"month":9,"date":13,"utc":true},{"year":2023,"month":10,"date":13,"utc":true},{"year":2023,"month":11,"date":13,"utc":true},{"year":2023,"month":12,"date":13,"utc":true},{"year":2024,"month":1,"date":13,"utc":true},{"year":2024,"month":2,"date":13,"utc":true},{"year":2024,"month":3,"date":13,"utc":true},{"year":2024,"month":4,"date":13,"utc":true},{"year":2024,"month":5,"date":13,"utc":true},{"year":2024,"month":6,"date":13,"utc":true},{"year":2024,"month":7,"date":13,"utc":true},{"year":2024,"month":8,"date":13,"utc":true},{"year":2024,"month":9,"date":13,"utc":true},{"year":2024,"month":10,"date":13,"utc":true},{"year":2024,"month":11,"date":13,"utc":true},{"year":2024,"month":12,"date":13,"utc":true}],
      "labelExpr":"utcFormat(datum.value, '%y/%-m/%-d')","labelAngle":270,"labelAlign":"right","labelBaseline":"middle","labelFontSize":8.5,"labelPadding":4,"domain":true,"domainColor":"#808080","ticks":true,"tickColor":"#808080","tickSize":3}}},
   "layer":[
    {"data":{"name":"p6s"},"mark":{"type":"area"},"encoding":{"y":{"field":"v","type":"quantitative","title":null,"scale":{"domain":[0,1],"nice":false},"axis":{"orient":"right","values":[0,0.1,0.2,0.3,0.4,0.5,0.6,0.7,0.8,0.9,1.0],"format":".1f","labelPadding":8,"labelOverlap":false}},"y2":{"datum":0},
      "fill":{"datum":"期限利差（10Y-1Y）bps,右轴","scale":{"range":["#808080"]},"legend":{"title":null,"orient":"none","legendX":-7,"legendY":-14,"direction":"horizontal","symbolType":"M-1,-0.25H1V0.25H-1Z","symbolSize":784,"symbolStrokeWidth":0,"labelOffset":2}}}},
    {"layer":[
     {"data":{"name":"p6a"},"mark":{"type":"line","strokeWidth":2.5},"encoding":{"y":{"field":"v","type":"quantitative","title":null,"scale":{"domain":[0.9,3.0],"nice":false},"axis":{"orient":"left","values":[0.9,1.4,1.9,2.4,2.9],"format":".1f","labelPadding":13,"labelOverlap":false}},
       "stroke":{"datum":"中债国债到期收益率：1年%","scale":{"range":["#c00000"]},"legend":{"title":null,"orient":"none","legendX":160,"legendY":-14,"direction":"horizontal","symbolType":"stroke","symbolSize":784,"symbolStrokeWidth":3,"labelOffset":2}}}},
     {"data":{"name":"p6b"},"mark":{"type":"line","strokeWidth":2.5},"encoding":{"y":{"field":"v","type":"quantitative","title":null,"axis":{"orient":"left","values":[0.9,1.4,1.9,2.4,2.9],"format":".1f","labelPadding":13,"labelOverlap":false}},
       "color":{"datum":"中债国债到期收益率：10年%","scale":{"range":["#f4a04c"]},"legend":{"title":null,"orient":"none","legendX":-7,"legendY":-1,"direction":"horizontal","symbolType":"stroke","symbolSize":784,"symbolStrokeWidth":3,"labelOffset":2}}}}
    ]}
   ],
   "resolve":{"scale":{"y":"independent"}}},
  {"title":{"text":"图 7  上周中美 10 年期国债利差倒挂幅度继续加深","dx":-30,"offset":-2},
   "width":287.6,"height":208.3,
   "encoding":{"x":{"field":"d","type":"temporal","title":null,"scale":{"type":"utc","domain":[{"year":2023,"month":2,"date":14,"utc":true},{"year":2025,"month":1,"date":11,"utc":true}]},
     "axis":{"values":[{"year":2023,"month":2,"date":14,"utc":true},{"year":2023,"month":4,"date":14,"utc":true},{"year":2023,"month":6,"date":14,"utc":true},{"year":2023,"month":8,"date":14,"utc":true},{"year":2023,"month":10,"date":14,"utc":true},{"year":2023,"month":12,"date":14,"utc":true},{"year":2024,"month":2,"date":14,"utc":true},{"year":2024,"month":4,"date":14,"utc":true},{"year":2024,"month":6,"date":14,"utc":true},{"year":2024,"month":8,"date":14,"utc":true},{"year":2024,"month":10,"date":14,"utc":true},{"year":2024,"month":12,"date":14,"utc":true}],
      "labelExpr":"utcFormat(datum.value, '%y/%-m/%-d')","labelAngle":-45,"labelAlign":"right","labelBaseline":"middle","labelFontSize":8.5,"labelPadding":4,"domain":true,"domainColor":"#808080","ticks":true,"tickColor":"#808080","tickSize":3}}},
   "layer":[
    {"data":{"name":"p7s"},"mark":{"type":"area"},"encoding":{"y":{"field":"v","type":"quantitative","title":null,"scale":{"domain":[-3.5,0.4992],"nice":false,"zero":false},"axis":{"orient":"right","values":[-3.5,-3,-2.5,-2,-1.5,-1,-0.5,0],"labelExpr":"''+datum.value","labelPadding":9,"labelOverlap":false}},"y2":{"datum":0},
      "fill":{"datum":"中美10年期国债利差bps，右轴","scale":{"range":["#7f7f7f"]},"legend":{"title":null,"orient":"none","legendX":-16.7,"legendY":-12.3,"direction":"horizontal","symbolType":"M-1,-0.25H1V0.25H-1Z","symbolSize":784,"symbolStrokeWidth":0,"labelOffset":2}}}},
    {"layer":[
     {"data":{"name":"p7cn"},"mark":{"type":"line","strokeWidth":2.5},"encoding":{"y":{"field":"v","type":"quantitative","title":null,"scale":{"domain":[1.5,6.0705],"nice":false},"axis":{"orient":"left","values":[1.5,2.0,2.5,3.0,3.5,4.0,4.5,5.0,5.5],"format":".1f","labelPadding":12,"labelOverlap":false}},
       "stroke":{"datum":"中国10年期国债收益率%","scale":{"range":["#f79646"]},"legend":{"title":null,"orient":"none","legendX":153.3,"legendY":-12.3,"direction":"horizontal","symbolType":"stroke","symbolSize":784,"symbolStrokeWidth":3,"labelOffset":2}}}},
     {"data":{"name":"p7us"},"mark":{"type":"line","strokeWidth":2.5},"encoding":{"y":{"field":"v","type":"quantitative","title":null,"axis":{"orient":"left","values":[1.5,2.0,2.5,3.0,3.5,4.0,4.5,5.0,5.5],"format":".1f","labelPadding":12,"labelOverlap":false}},
       "color":{"datum":"美国10年期国债收益率%","scale":{"range":["#cd4a47"]},"legend":{"title":null,"orient":"none","legendX":-18.7,"legendY":2.7,"direction":"horizontal","symbolType":"stroke","symbolSize":784,"symbolStrokeWidth":3,"labelOffset":2}}}}
    ]}
   ],
   "resolve":{"scale":{"y":"independent"}}}
 ],"spacing":57.7,"bounds":"flush",
 "resolve":{"scale":{"fill":"independent","stroke":"independent","color":"independent"},"legend":{"fill":"independent","stroke":"independent","color":"independent"}}}
],"spacing":34,
 "resolve":{"scale":{"fill":"independent","stroke":"independent","color":"independent"},"legend":{"fill":"independent","stroke":"independent","color":"independent"}}}
]
}
